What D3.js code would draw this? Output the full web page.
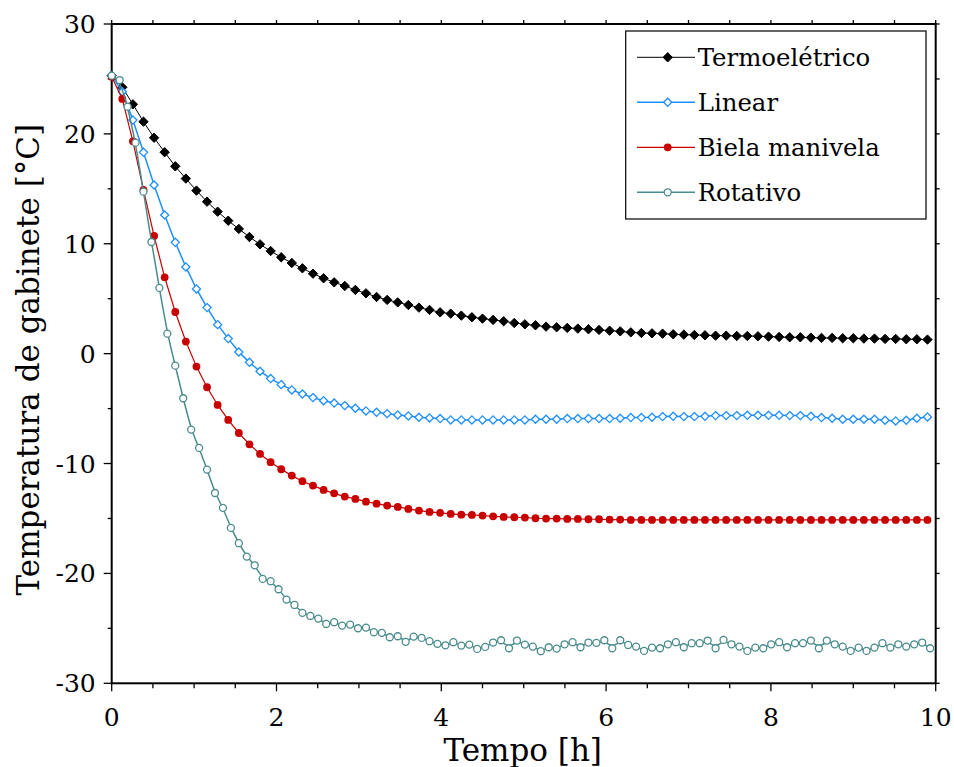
<!DOCTYPE html>
<html lang="pt">
<head>
    <meta charset="UTF-8">
    <title>Temperatura de gabinete</title>
    <script src="https://d3js.org/d3.v7.min.js"></script>
    <style>
        body { margin: 0; background: #fff; }
        text { font-family: "DejaVu Serif", serif; fill: #000; }
        .tick-label { font-size: 25px; }
        .axis-title { font-size: 31px; }
        .legend-label { font-size: 24.4px; }
    </style>
</head>
<body>
    <svg id="chart" width="954" height="767"></svg>

    <script>
        // sampling interval [h] of each logger
        var stepStd = 0.12857;   // Termoelétrico, Linear, Biela manivela
        var stepRot = 0.09643;   // Rotativo

        var termoeletrico = [25.3, 24.24, 22.69, 21.11, 19.65, 18.33, 17.05, 15.93, 14.84, 13.83, 12.92, 12.10, 11.35,
            10.62, 9.95, 9.34, 8.77, 8.25, 7.77, 7.28, 6.86, 6.49, 6.16, 5.80, 5.49, 5.16, 4.89, 4.67, 4.43, 4.19,
            3.98, 3.76, 3.64, 3.46, 3.31, 3.19, 3.07, 2.95, 2.79, 2.67, 2.58, 2.46, 2.40, 2.34, 2.28, 2.22, 2.16,
            2.09, 2.03, 1.94, 1.88, 1.85, 1.82, 1.76, 1.73, 1.70, 1.67, 1.64, 1.64, 1.61, 1.61, 1.58, 1.55, 1.52,
            1.49, 1.49, 1.46, 1.43, 1.43, 1.40, 1.40, 1.37, 1.37, 1.34, 1.34, 1.31, 1.31, 1.28];

        var linear = [25.3, 23.84, 21.26, 18.32, 15.35, 12.62, 10.13, 7.89, 5.89, 4.19, 2.64, 1.37, 0.15, -0.79,
            -1.60, -2.27, -2.82, -3.30, -3.67, -4.00, -4.28, -4.50, -4.73, -4.97, -5.21, -5.34, -5.46, -5.58, -5.67,
            -5.79, -5.85, -5.91, -6.03, -6.03, -6.03, -6.03, -6.03, -6.03, -6.03, -6.03, -5.97, -5.97, -5.97, -5.91,
            -5.91, -5.91, -5.91, -5.91, -5.88, -5.82, -5.82, -5.79, -5.73, -5.70, -5.73, -5.73, -5.70, -5.64, -5.64,
            -5.64, -5.61, -5.61, -5.61, -5.61, -5.64, -5.64, -5.70, -5.82, -5.88, -5.97, -5.97, -5.97, -5.97, -6.06,
            -6.12, -6.06, -5.88, -5.76];

        var biela = [25.2, 23.18, 19.32, 14.90, 10.71, 6.95, 3.79, 1.10, -1.18, -3.06, -4.67, -6.03, -7.22, -8.25,
            -9.13, -9.88, -10.52, -11.10, -11.61, -12.01, -12.40, -12.71, -13.01, -13.22, -13.47, -13.65, -13.83,
            -13.95, -14.13, -14.28, -14.40, -14.49, -14.59, -14.65, -14.68, -14.74, -14.80, -14.86, -14.89, -14.92,
            -14.98, -15.01, -15.01, -15.04, -15.04, -15.07, -15.07, -15.10, -15.10, -15.13, -15.13, -15.13, -15.13,
            -15.13, -15.13, -15.13, -15.13, -15.13, -15.13, -15.13, -15.13, -15.13, -15.13, -15.13, -15.13, -15.13,
            -15.13, -15.13, -15.13, -15.13, -15.13, -15.13, -15.13, -15.13, -15.13, -15.13, -15.13, -15.13];

        var rotativo = [25.30, 24.90, 22.48, 19.20, 14.74, 10.16, 5.98, 1.82, -1.09, -4.06, -6.91, -8.58, -10.55,
            -12.68, -14.04, -15.86, -17.25, -18.47, -19.26, -20.50, -20.71, -21.44, -22.38, -22.87, -23.59, -23.87,
            -24.11, -24.60, -24.44, -24.75, -24.66, -24.99, -24.93, -25.35, -25.41, -25.81, -25.72, -26.23, -25.75,
            -25.87, -26.17, -26.41, -26.54, -26.26, -26.57, -26.48, -26.87, -26.69, -26.29, -26.08, -26.81, -26.11,
            -26.48, -26.66, -27.08, -26.72, -26.84, -26.45, -26.26, -26.72, -26.29, -26.32, -26.08, -26.81, -26.08,
            -26.51, -26.66, -27.05, -26.75, -26.81, -26.45, -26.26, -26.72, -26.35, -26.35, -26.11, -26.81, -26.05,
            -26.45, -26.66, -27.05, -26.75, -26.81, -26.45, -26.26, -26.72, -26.35, -26.35, -26.11, -26.81, -26.11,
            -26.45, -26.66, -27.05, -26.75, -27.05, -26.75, -26.35, -26.75, -26.45, -26.66, -26.45, -26.29, -26.81];

        var xTicks = [0, 2, 4, 6, 8, 10];
        var yTicks = [-30, -20, -10, 0, 10, 20, 30];

        var margin = {top: 24, right: 18.3, bottom: 83.7, left: 111.7},
            width = 954 - margin.left - margin.right,
            height = 767 - margin.top - margin.bottom;

        var x = d3.scaleLinear().domain([0, 10]).range([0, width]);
        var y = d3.scaleLinear().domain([-30, 30]).range([height, 0]);

        var svg = d3.select("#chart")
            .append("g")
            .attr("transform", "translate(" + margin.left + "," + margin.top + ")");

        function toPoints(values, step) {
            return values.map(function(v, i) { return {t: i * step, v: v}; });
        }

        var series = [
            {name: "Termoelétrico", data: toPoints(termoeletrico, stepStd), color: "#000000", mark: "diamond", fill: "#000000", lw: 1, curve: d3.curveLinear},
            {name: "Linear", data: toPoints(linear, stepStd), color: "#1e8fff", mark: "diamond", fill: "#ffffff", lw: 1.5, curve: d3.curveLinear},
            {name: "Biela manivela", data: toPoints(biela, stepStd), color: "#c80000", mark: "circle", fill: "#c80000", lw: 1.2, curve: d3.curveLinear},
            {name: "Rotativo", data: toPoints(rotativo, stepRot), color: "#4a8c8c", mark: "circle", fill: "#ffffff", lw: 1.5, curve: d3.curveBasis}
        ];

        // minor ticks
        var xMinor = d3.range(0, 10.01, 0.5);
        var yMinor = d3.range(-30, 30.01, 5);

        var axes = svg.append("g").attr("class", "axes");

        // bottom ticks (outward)
        axes.selectAll(".xb").data(xMinor).enter().append("line")
            .attr("x1", d => x(d)).attr("x2", d => x(d))
            .attr("y1", height).attr("y2", d => height + (d % 2 === 0 ? 8 : 5))
            .attr("stroke", "#000").attr("stroke-width", 1.3);
        // top ticks
        axes.selectAll(".xt").data(xMinor).enter().append("line")
            .attr("x1", d => x(d)).attr("x2", d => x(d))
            .attr("y1", 0).attr("y2", -4)
            .attr("stroke", "#000").attr("stroke-width", 1.3);
        // left ticks
        axes.selectAll(".yl").data(yMinor).enter().append("line")
            .attr("x1", 0).attr("x2", d => (d % 10 === 0 ? -8 : -4))
            .attr("y1", d => y(d)).attr("y2", d => y(d))
            .attr("stroke", "#000").attr("stroke-width", 1.3);
        // right ticks
        axes.selectAll(".yr").data(yMinor).enter().append("line")
            .attr("x1", width).attr("x2", width + 4)
            .attr("y1", d => y(d)).attr("y2", d => y(d))
            .attr("stroke", "#000").attr("stroke-width", 1.3);

        axes.append("rect")
            .attr("x", 0).attr("y", 0)
            .attr("width", width).attr("height", height)
            .attr("fill", "none").attr("stroke", "#000").attr("stroke-width", 2);

        axes.selectAll(".xl").data(xTicks).enter().append("text")
            .attr("class", "tick-label")
            .attr("x", d => x(d)).attr("y", height + 43)
            .attr("text-anchor", "middle")
            .text(d => d);

        axes.selectAll(".ylab").data(yTicks).enter().append("text")
            .attr("class", "tick-label")
            .attr("x", -16).attr("y", d => y(d) + 9)
            .attr("text-anchor", "end")
            .text(d => d);

        svg.append("text")
            .attr("class", "axis-title")
            .attr("x", width / 2 - 1).attr("y", height + 78)
            .attr("text-anchor", "middle")
            .text("Tempo [h]");

        svg.append("text")
            .attr("class", "axis-title")
            .attr("transform", "translate(" + (-73) + "," + (height / 2 + 6) + ") rotate(-90)")
            .attr("text-anchor", "middle")
            .text("Temperatura de gabinete [°C]");

        var diamond = d3.symbol().type(d3.symbolDiamond2);

        function drawMarker(sel, s) {
            if (s.mark === "diamond") {
                sel.append("path")
                    .attr("d", diamond.size(s.fill === "#ffffff" ? 42 : 56)())
                    .attr("fill", s.fill)
                    .attr("stroke", s.color)
                    .attr("stroke-width", s.fill === "#ffffff" ? 1.3 : 1);
            } else {
                sel.append("circle")
                    .attr("r", s.fill === "#ffffff" ? 3.5 : 3.9)
                    .attr("fill", s.fill)
                    .attr("stroke", s.color)
                    .attr("stroke-width", s.fill === "#ffffff" ? 1.3 : 0);
            }
        }

        var plot = svg.append("g");

        series.forEach(function(s) {
            var line = d3.line()
                .curve(s.curve)
                .x(d => x(d.t))
                .y(d => y(d.v));

            var g = plot.append("g");
            g.append("path")
                .datum(s.data)
                .attr("fill", "none")
                .attr("stroke", s.color)
                .attr("stroke-width", s.lw)
                .attr("d", line);

            g.selectAll(".pt").data(s.data).enter().append("g")
                .attr("transform", d => "translate(" + x(d.t) + "," + y(d.v) + ")")
                .each(function() { drawMarker(d3.select(this), s); });
        });

        // legend
        var legend = svg.append("g")
            .attr("transform", "translate(" + (625.7 - margin.left) + "," + (31 - margin.top) + ")");

        legend.append("rect")
            .attr("width", 300.3).attr("height", 188)
            .attr("fill", "#fff").attr("stroke", "#000").attr("stroke-width", 1.2);

        series.forEach(function(s, i) {
            var row = legend.append("g").attr("transform", "translate(0," + (26.3 + i * 45) + ")");
            row.append("line")
                .attr("x1", 11.3).attr("x2", 69.3)
                .attr("y1", 0).attr("y2", 0)
                .attr("stroke", s.color).attr("stroke-width", s.lw);
            drawMarker(row.append("g").attr("transform", "translate(42,0)"), s);
            row.append("text")
                .attr("class", "legend-label")
                .attr("x", 72).attr("y", 8.5)
                .text(s.name);
        });
    </script>
</body>
</html>
